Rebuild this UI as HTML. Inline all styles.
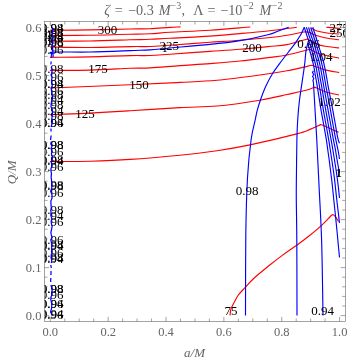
<!DOCTYPE html>
<html><head><meta charset="utf-8"><title>plot</title>
<style>html,body{margin:0;padding:0;background:#fff}svg{display:block}text{filter:grayscale(1)}</style></head>
<body>
<svg width="347" height="360" viewBox="0 0 347 360">
<defs><clipPath id="c"><rect x="44.4" y="21.4" width="300.90000000000003" height="300.20000000000005"/></clipPath></defs>
<rect width="347" height="360" fill="#fff"/>
<g clip-path="url(#c)">
<g fill="none" stroke="#ff0000" stroke-width="1.15">
<path d="M50.0,30.3 C56.7,30.2 76.7,30.1 90.0,29.9 C103.3,29.7 120.0,29.2 130.0,29.0 C140.0,28.8 143.3,29.1 150.0,28.8 C156.7,28.5 164.9,27.7 170.0,27.4 C175.1,27.1 178.8,27.0 180.5,26.9"/>
<path d="M50.0,35.6 C56.7,35.5 76.7,35.4 90.0,35.2 C103.3,35.0 120.0,34.5 130.0,34.2 C140.0,34.0 143.3,34.0 150.0,33.7 C156.7,33.4 160.0,32.9 170.0,32.3 C180.0,31.7 196.6,31.1 210.0,30.2 C223.4,29.3 243.6,27.5 250.3,27.0"/>
<path d="M50.0,41.3 C56.7,41.2 76.7,41.2 90.0,41.0 C103.3,40.8 120.0,40.1 130.0,39.8 C140.0,39.5 143.3,39.6 150.0,39.3 C156.7,39.0 160.0,38.7 170.0,38.2 C180.0,37.7 198.3,36.9 210.0,36.1 C221.7,35.3 230.3,34.5 240.0,33.6 C249.7,32.8 258.5,32.1 268.0,31.0 C277.5,29.9 292.0,27.8 296.8,27.2"/>
<path d="M50.0,47.0 C56.7,47.1 76.7,47.6 90.0,47.5 C103.3,47.4 120.0,46.8 130.0,46.6 C140.0,46.4 143.3,46.7 150.0,46.5 C156.7,46.3 160.0,45.9 170.0,45.2 C180.0,44.5 198.3,43.1 210.0,42.3 C221.7,41.5 230.3,41.0 240.0,40.2 C249.7,39.4 260.2,38.5 268.0,37.7 C275.8,36.9 280.8,36.2 287.0,35.2 C293.2,34.2 302.0,32.4 305.0,31.8 M305.0,31.8 C305.8,31.9 308.2,32.0 310.0,32.6 C311.8,33.2 312.9,34.3 315.6,35.2 C318.3,36.1 322.1,37.2 326.0,38.0 C329.9,38.8 336.8,39.5 339.0,39.8"/>
<path d="M50.0,57.4 C56.7,57.3 76.7,57.2 90.0,56.9 C103.3,56.6 120.0,55.8 130.0,55.6 C140.0,55.4 143.3,55.7 150.0,55.5 C156.7,55.3 160.0,54.9 170.0,54.2 C180.0,53.5 198.3,52.2 210.0,51.4 C221.7,50.6 230.3,50.1 240.0,49.3 C249.7,48.5 260.2,47.4 268.0,46.6 C275.8,45.8 280.4,45.9 287.0,44.6 C293.6,43.3 304.1,39.9 307.5,39.0 M307.5,39.0 C309.1,39.9 314.1,43.1 317.4,44.4 C320.6,45.6 323.4,45.9 327.0,46.5 C330.6,47.1 337.0,47.7 339.0,47.9"/>
<path d="M50.0,70.3 C56.7,70.3 76.7,70.4 90.0,70.1 C103.3,69.8 120.0,68.7 130.0,68.3 C140.0,67.9 141.7,68.4 150.0,67.9 C158.3,67.5 170.0,66.3 180.0,65.6 C190.0,64.9 200.0,64.4 210.0,63.6 C220.0,62.8 230.3,62.0 240.0,61.0 C249.7,60.0 260.2,58.6 268.0,57.6 C275.8,56.6 280.0,56.4 287.0,55.0 C294.0,53.6 306.2,50.2 310.0,49.3 M310.0,49.3 C311.7,50.1 315.2,52.5 320.0,54.0 C324.8,55.5 335.8,57.4 339.0,58.1"/>
<path d="M50.0,88.0 C63.3,87.5 108.3,85.6 130.0,84.7 C151.7,83.8 165.5,83.1 180.0,82.4 C194.5,81.7 203.7,81.5 217.0,80.3 C230.3,79.1 248.3,76.6 260.0,75.0 C271.7,73.4 278.4,72.3 287.0,70.7 C295.6,69.1 307.6,66.2 311.7,65.3 M311.7,65.3 C313.8,66.0 319.4,68.4 324.0,69.6 C328.6,70.8 336.7,72.1 339.2,72.6"/>
<path d="M50.0,114.7 C55.8,114.5 71.7,114.1 85.0,113.4 C98.3,112.7 114.2,111.7 130.0,110.7 C145.8,109.7 165.5,108.4 180.0,107.6 C194.5,106.8 203.7,107.2 217.0,106.0 C230.3,104.8 248.1,102.1 259.8,100.2 C271.5,98.3 279.3,96.2 287.0,94.5 C294.7,92.8 301.4,91.4 306.0,90.2 C310.6,89.0 313.3,87.6 314.8,87.1 M314.8,87.1 C316.7,87.9 322.0,90.7 326.0,92.0 C330.0,93.3 336.8,94.5 339.0,95.0"/>
<path d="M50.0,161.6 C56.7,161.5 76.7,161.6 90.0,161.2 C103.3,160.8 115.0,160.4 130.0,159.4 C145.0,158.4 165.5,156.6 180.0,155.2 C194.5,153.8 205.3,152.4 217.0,150.7 C228.7,149.0 236.7,147.7 250.0,144.9 C263.3,142.1 286.8,136.5 296.8,133.9 C306.8,131.3 305.9,131.0 310.0,129.4 C314.1,127.8 319.3,125.2 321.2,124.4 M321.2,124.4 C322.7,125.1 327.1,127.3 330.0,128.6 C332.9,129.9 337.1,131.6 338.5,132.2"/>
<path d="M230.0,315.4 C230.2,314.3 230.3,311.1 231.0,309.0 C231.7,306.9 232.7,305.2 233.9,303.0 C235.1,300.8 236.2,298.1 238.0,295.5 C239.8,292.9 242.3,290.6 245.0,287.7 C247.7,284.8 249.9,281.9 254.0,278.2 C258.1,274.5 264.7,269.2 269.5,265.3 C274.3,261.4 278.5,258.2 283.0,254.9 C287.5,251.6 292.2,248.5 296.4,245.5 C300.6,242.5 303.8,240.2 308.0,236.8 C312.2,233.4 318.2,228.4 321.6,225.3 C325.0,222.2 326.8,220.1 328.5,218.4 C330.2,216.7 330.8,215.9 331.6,215.3 C332.4,214.7 332.7,214.5 333.3,214.7 C333.9,214.9 334.5,215.6 335.4,216.7 C336.3,217.8 338.0,220.7 338.5,221.5"/>
<path d="M311.0,28.0 C312.0,28.5 314.3,30.2 317.0,31.0 C319.7,31.8 323.3,32.5 327.0,33.0 C330.7,33.5 337.2,33.8 339.3,34.0"/>
<path d="M326.3,27.2 C327.2,27.3 329.8,27.4 332.0,27.6 C334.2,27.8 338.1,28.3 339.3,28.4"/>
</g>
<g fill="none" stroke="#0000ff" stroke-width="1.15">
<path d="M51.2,57.6 C51.3,57.0 51.2,54.9 51.6,54.0 C52.0,53.1 47.1,52.4 53.5,52.1 C59.9,51.8 77.2,52.2 90.0,52.0 C102.8,51.8 120.0,51.0 130.0,50.6 C140.0,50.2 143.3,50.3 150.0,49.9 C156.7,49.5 160.0,48.9 170.0,48.0 C180.0,47.1 198.3,45.6 210.0,44.4 C221.7,43.2 230.3,42.2 240.0,40.6 C249.7,39.0 261.6,36.3 268.0,34.7 C274.4,33.1 274.9,32.2 278.4,31.0 C281.8,29.8 287.0,27.8 288.7,27.2"/>
<path d="M304.3,27.2 C303.8,28.2 302.7,31.1 301.4,33.5 C300.1,35.9 298.1,38.9 296.3,41.6 C294.5,44.3 292.8,46.5 290.3,49.7 C287.8,52.9 284.4,57.1 281.5,61.0 C278.6,64.9 275.5,68.8 272.9,73.0 C270.3,77.2 267.9,81.7 265.9,86.0 C263.9,90.3 262.2,95.0 260.8,99.0 C259.4,103.0 258.2,106.7 257.3,110.2 C256.4,113.7 256.2,115.2 255.2,120.0 C254.2,124.8 252.5,129.4 251.2,139.0 C249.9,148.6 248.4,161.8 247.5,177.8 C246.6,193.8 246.1,212.1 245.8,235.0 C245.5,257.9 245.6,302.0 245.5,315.4"/>
<path d="M307.8,43.3 C307.5,44.5 306.5,47.7 306.0,50.8 C305.5,53.9 305.3,58.5 304.9,62.0 C304.5,65.5 304.5,65.7 303.6,72.0 C302.7,78.3 300.5,92.0 299.5,100.0 C298.5,108.0 298.1,113.5 297.7,120.0 C297.3,126.5 297.1,129.3 296.9,139.0 C296.7,148.7 296.5,167.8 296.4,178.0 C296.3,188.2 296.2,189.7 296.3,200.0 C296.4,210.3 296.7,220.8 296.8,240.0 C296.9,259.2 297.0,302.8 297.0,315.4"/>
<path d="M313.4,70.8 L312.5,72.5 L313.7,74.5 L312.6,76.5 L313.8,78.5 L312.9,80.5 L313.5,82.5 M313.5,82.5 C313.5,83.2 313.4,82.5 313.7,87.0 C313.9,91.5 314.5,100.7 315.0,109.2 C315.5,117.7 316.0,125.6 316.7,138.2 C317.4,150.8 318.2,168.0 319.0,185.0 C319.8,202.0 320.9,218.3 321.6,240.0 C322.3,261.7 322.8,302.8 323.0,315.4"/>
<path d="M307.8,43.3 C308.1,44.4 308.9,47.2 309.6,50.0 C310.4,52.8 311.6,57.3 312.3,60.0 C313.0,62.7 313.4,64.4 313.8,66.4 C314.2,68.4 314.4,69.7 314.8,72.0 C315.2,74.3 315.7,77.5 316.2,80.0 C316.6,82.5 316.9,84.1 317.4,87.1 C317.9,90.1 318.5,94.3 319.1,98.0 C319.7,101.7 320.2,104.9 320.9,109.2 C321.6,113.5 322.7,119.2 323.6,124.0 C324.4,128.8 325.4,133.9 326.1,138.2 C326.8,142.5 327.3,146.4 327.8,150.0 C328.3,153.6 328.7,156.3 329.2,160.0 C329.7,163.7 330.2,167.8 330.7,172.0 C331.2,176.2 331.8,180.3 332.3,185.0 C332.8,189.7 333.3,195.0 333.8,200.0 C334.3,205.0 334.9,210.0 335.4,215.0 C335.9,220.0 336.4,225.0 336.9,230.0 C337.4,235.0 337.9,240.4 338.3,245.0 C338.8,249.6 339.3,255.4 339.5,257.5"/>
<path d="M304.3,27.3 C304.6,28.1 305.3,30.6 305.8,32.0 C306.2,33.5 306.5,34.7 307.0,36.0 C307.5,37.3 308.1,38.8 308.5,40.0 C309.0,41.2 309.3,41.6 309.8,43.3 C310.3,45.0 310.9,47.2 311.7,50.0 C312.4,52.8 313.7,57.3 314.4,60.0 C315.2,62.7 315.5,64.4 315.9,66.4 C316.4,68.4 316.6,69.7 317.0,72.0 C317.4,74.3 317.9,77.5 318.4,80.0 C318.8,82.5 319.1,84.1 319.6,87.1 C320.1,90.1 320.8,94.3 321.4,98.0 C322.0,101.7 322.5,104.9 323.2,109.2 C324.0,113.5 325.0,119.2 325.9,124.0 C326.8,128.8 327.7,133.9 328.4,138.2 C329.2,142.5 329.8,146.4 330.3,150.0 C330.9,153.6 331.3,156.3 331.8,160.0 C332.4,163.7 333.0,167.8 333.6,172.0 C334.1,176.2 334.7,180.3 335.2,185.0 C335.7,189.7 336.2,195.0 336.8,200.0 C337.4,205.0 338.1,211.2 338.6,215.0 C339.0,218.8 339.3,221.7 339.5,223.0"/>
<path d="M306.4,27.3 C306.7,28.1 307.5,30.6 307.9,32.0 C308.4,33.5 308.7,34.7 309.2,36.0 C309.6,37.3 310.2,38.8 310.6,40.0 C311.1,41.2 311.3,41.6 311.8,43.3 C312.3,45.0 312.9,47.2 313.7,50.0 C314.5,52.8 315.9,57.3 316.6,60.0 C317.3,62.7 317.6,64.4 318.1,66.4 C318.5,68.4 318.8,69.7 319.2,72.0 C319.6,74.3 320.1,77.5 320.5,80.0 C321.0,82.5 321.2,84.1 321.8,87.1 C322.3,90.1 323.0,94.3 323.6,98.0 C324.3,101.7 324.8,104.9 325.6,109.2 C326.3,113.5 327.4,119.2 328.2,124.0 C329.1,128.8 330.0,133.9 330.8,138.2 C331.6,142.5 332.3,146.4 332.9,150.0 C333.5,153.6 333.9,156.3 334.5,160.0 C335.0,163.7 335.8,167.8 336.4,172.0 C337.0,176.2 337.6,180.7 338.1,185.0 C338.6,189.3 339.3,195.8 339.5,198.0"/>
<path d="M308.6,27.3 C308.8,28.1 309.6,30.6 310.0,32.0 C310.5,33.5 310.9,34.7 311.3,36.0 C311.7,37.3 312.3,38.8 312.7,40.0 C313.1,41.2 313.3,41.6 313.8,43.3 C314.3,45.0 315.0,47.2 315.8,50.0 C316.6,52.8 318.0,57.3 318.7,60.0 C319.5,62.7 319.8,64.4 320.2,66.4 C320.7,68.4 320.9,69.7 321.3,72.0 C321.8,74.3 322.3,77.5 322.7,80.0 C323.2,82.5 323.4,84.1 323.9,87.1 C324.5,90.1 325.2,94.3 325.9,98.0 C326.6,101.7 327.1,104.9 327.9,109.2 C328.7,113.5 329.7,119.2 330.6,124.0 C331.4,128.8 332.3,133.9 333.1,138.2 C333.9,142.5 334.8,146.4 335.5,150.0 C336.1,153.6 336.4,156.2 337.1,160.0 C337.7,163.8 339.1,170.8 339.5,173.0"/>
<path d="M310.7,27.3 C310.9,28.1 311.7,30.6 312.2,32.0 C312.6,33.5 313.0,34.7 313.5,36.0 C313.9,37.3 314.4,38.8 314.8,40.0 C315.2,41.2 315.3,41.6 315.8,43.3 C316.4,45.0 317.0,47.2 317.9,50.0 C318.7,52.8 320.1,57.3 320.9,60.0 C321.6,62.7 321.9,64.4 322.4,66.4 C322.8,68.4 323.1,69.7 323.5,72.0 C323.9,74.3 324.5,77.5 324.9,80.0 C325.3,82.5 325.6,84.1 326.1,87.1 C326.7,90.1 327.5,94.3 328.2,98.0 C328.9,101.7 329.5,104.9 330.3,109.2 C331.1,113.5 332.0,119.2 332.9,124.0 C333.8,128.8 334.6,133.9 335.5,138.2 C336.3,142.5 337.4,146.5 338.0,150.0 C338.7,153.5 339.3,157.5 339.5,159.0"/>
<path d="M312.8,27.3 C313.1,28.1 313.8,30.6 314.3,32.0 C314.8,33.5 315.2,34.7 315.6,36.0 C316.0,37.3 316.5,38.8 316.8,40.0 C317.2,41.2 317.3,41.6 317.9,43.3 C318.4,45.0 319.1,47.2 319.9,50.0 C320.8,52.8 322.2,57.3 323.0,60.0 C323.8,62.7 324.1,64.4 324.5,66.4 C324.9,68.4 325.3,69.7 325.7,72.0 C326.1,74.3 326.6,77.5 327.1,80.0 C327.5,82.5 327.7,84.1 328.3,87.1 C328.9,90.1 329.7,94.3 330.4,98.0 C331.1,101.7 331.8,104.9 332.6,109.2 C333.4,113.5 334.4,119.2 335.3,124.0 C336.1,128.8 337.1,135.0 337.8,138.2 C338.5,141.4 339.2,142.5 339.5,143.3"/>
</g>
<g font-family="Liberation Serif, serif" font-size="13" fill="#000" text-anchor="middle">
<text x="52.2" y="31.7">0.98</text>
<text x="52.2" y="31.9">0.94</text>
<text x="52.2" y="36.6">0.96</text>
<text x="52.2" y="36.8">0.98</text>
<text x="52.2" y="41.2">0.98</text>
<text x="52.2" y="41.4">0.94</text>
<text x="52.2" y="46.4">0.98</text>
<text x="52.2" y="46.6">0.96</text>
<text x="52.2" y="53.5">0.96</text>
<text x="52.2" y="72.9">0.98</text>
<text x="52.2" y="80.9">0.96</text>
<text x="52.2" y="87.7">0.94</text>
<text x="52.2" y="87.9">0.98</text>
<text x="52.2" y="94.9">0.96</text>
<text x="52.2" y="99.4">0.98</text>
<text x="52.2" y="104.4">0.94</text>
<text x="52.2" y="109.4">0.98</text>
<text x="52.2" y="114.9">0.94</text>
<text x="52.2" y="120.3">0.98</text>
<text x="52.2" y="127.1">0.96</text>
<text x="52.2" y="127.4">0.94</text>
<text x="52.2" y="149.1">0.98</text>
<text x="52.2" y="149.3">0.98</text>
<text x="52.2" y="156.3">0.96</text>
<text x="52.2" y="164.1">0.98</text>
<text x="52.2" y="164.5">0.94</text>
<text x="52.2" y="171.3">0.96</text>
<text x="52.2" y="189.3">0.98</text>
<text x="52.2" y="189.5">0.98</text>
<text x="52.2" y="197.1">0.96</text>
<text x="52.2" y="213.5">0.98</text>
<text x="52.2" y="219.9">0.94</text>
<text x="52.2" y="226.1">0.96</text>
<text x="52.2" y="244.0">0.96</text>
<text x="52.2" y="249.1">0.98</text>
<text x="52.2" y="249.5">0.94</text>
<text x="52.2" y="257.3">0.96</text>
<text x="52.2" y="262.1">0.98</text>
<text x="52.2" y="262.5">0.94</text>
<text x="52.2" y="292.7">0.98</text>
<text x="52.2" y="292.9">0.98</text>
<text x="52.2" y="298.9">0.96</text>
<text x="52.2" y="307.7">0.94</text>
<text x="52.2" y="308.0">0.96</text>
<text x="52.2" y="318.4">0.94</text>
<text x="52.2" y="318.7">0.96</text>
<text x="107.5" y="33.7">300</text>
<text x="98" y="73.4">175</text>
<text x="139" y="89.2">150</text>
<text x="85" y="118.2">125</text>
<text x="169.2" y="49.9">225</text>
<text x="164.7" y="51.6">1</text>
<text x="49.5" y="38.5">1</text>
<text x="49.8" y="38.9">1</text>
<text x="49.5" y="44.5">1</text>
<text x="49.8" y="44.9">1</text>
<text x="251.9" y="52.4">200</text>
<text x="308.7" y="47.6">0.96</text>
<text x="321.0" y="61.2">1.04</text>
<text x="329.4" y="106.4">1.02</text>
<text x="247" y="195.3">0.98</text>
<text x="230.9" y="315.2">75</text>
<text x="322.7" y="314.5">0.94</text>
<text x="339.3" y="31.9">275</text>
<text x="339.3" y="37.2">250</text>
<text x="338.6" y="177.3">1</text>
<text x="338.9" y="177.3">1</text>
</g>
<path d="M52.4,27.5 L52.8,29.9 L52.6,32.2 L52.2,34.9 L52.1,37.8 L52.2,40.6 L52.5,43.0 L52.2,46.3 L52.7,48.8 L52.7,52.4 L53.1,55.1 L53.0,57.0 M51.1,61.5 L51.0,63.9 L51.4,64.0 M51.2,67.0 L52.1,70.0 L51.9,72.7 L51.0,75.0 L52.1,77.5 L51.5,80.3 L51.7,83.3 L52.3,85.9 L51.3,89.1 L51.8,92.1 L52.2,95.6 L52.7,98.2 L51.7,100.5 L51.2,103.8 L51.0,106.7 L52.3,109.8 L52.5,112.8 L52.2,115.4 L51.9,118.5 L52.4,121.3 L51.8,124.8 L51.0,127.0 M50.9,128.5 L51.1,131.5 M51.1,135.5 L50.8,138.1 L50.6,140.0 M51.4,141.5 L50.8,143.9 L52.0,146.2 L51.0,148.6 L52.2,151.3 L51.4,153.7 L52.2,156.6 L52.2,160.0 L51.3,162.6 L52.2,165.3 L50.9,168.8 L51.0,171.3 L51.5,173.8 L51.1,176.8 L51.4,179.0 L51.6,181.7 L51.8,185.3 L51.7,188.2 L50.7,191.3 L52.0,194.8 L52.0,198.2 L51.3,200.0 M51.0,200.0 L50.9,203.1 L51.1,205.4 L51.3,207.8 L50.8,210.1 L51.0,212.5 L50.8,215.2 L51.8,218.6 L51.2,221.0 L51.4,223.7 L52.2,226.1 L51.5,229.7 L50.9,232.6 L51.3,234.9 L52.1,237.5 L50.8,239.9 L51.6,243.4 L51.7,245.8 L51.6,248.1 L52.2,251.6 L51.2,254.8 L51.1,257.5 L51.7,260.8 L51.3,263.0 M50.8,265.0 L51.3,268.0 M51.0,271.0 L51.0,274.3 L50.6,275.0 M50.9,278.0 L50.6,280.7 L50.8,282.0 M50.9,285.0 L52.0,288.2 L52.0,291.0 L52.0,294.6 L50.9,297.3 L50.8,299.8 L51.5,302.3 L51.8,305.8 L51.5,308.6 L50.6,311.9 L52.0,315.1 L51.7,315.5" fill="none" stroke="#0000ff" stroke-width="1.25"/>
</g>
<g stroke="#666" stroke-width="0.6" fill="none">
<rect x="44.4" y="21.4" width="300.90000000000003" height="300.20000000000005"/>
<path d="M50.30,321.6v-4.7M50.30,21.4v4.7M64.77,321.6v-3.1M64.77,21.4v3.1M79.23,321.6v-3.1M79.23,21.4v3.1M93.70,321.6v-3.1M93.70,21.4v3.1M108.16,321.6v-4.7M108.16,21.4v4.7M122.62,321.6v-3.1M122.62,21.4v3.1M137.09,321.6v-3.1M137.09,21.4v3.1M151.56,321.6v-3.1M151.56,21.4v3.1M166.02,321.6v-4.7M166.02,21.4v4.7M180.49,321.6v-3.1M180.49,21.4v3.1M194.95,321.6v-3.1M194.95,21.4v3.1M209.42,321.6v-3.1M209.42,21.4v3.1M223.88,321.6v-4.7M223.88,21.4v4.7M238.35,321.6v-3.1M238.35,21.4v3.1M252.81,321.6v-3.1M252.81,21.4v3.1M267.28,321.6v-3.1M267.28,21.4v3.1M281.74,321.6v-4.7M281.74,21.4v4.7M296.21,321.6v-3.1M296.21,21.4v3.1M310.67,321.6v-3.1M310.67,21.4v3.1M325.14,321.6v-3.1M325.14,21.4v3.1M339.60,321.6v-4.7M339.60,21.4v4.7M44.4,315.60h4.7M345.3,315.60h-4.7M44.4,306.00h3.1M345.3,306.00h-3.1M44.4,296.40h3.1M345.3,296.40h-3.1M44.4,286.80h3.1M345.3,286.80h-3.1M44.4,277.20h3.1M345.3,277.20h-3.1M44.4,267.60h4.7M345.3,267.60h-4.7M44.4,258.00h3.1M345.3,258.00h-3.1M44.4,248.40h3.1M345.3,248.40h-3.1M44.4,238.80h3.1M345.3,238.80h-3.1M44.4,229.20h3.1M345.3,229.20h-3.1M44.4,219.60h4.7M345.3,219.60h-4.7M44.4,210.00h3.1M345.3,210.00h-3.1M44.4,200.40h3.1M345.3,200.40h-3.1M44.4,190.80h3.1M345.3,190.80h-3.1M44.4,181.20h3.1M345.3,181.20h-3.1M44.4,171.60h4.7M345.3,171.60h-4.7M44.4,162.00h3.1M345.3,162.00h-3.1M44.4,152.40h3.1M345.3,152.40h-3.1M44.4,142.80h3.1M345.3,142.80h-3.1M44.4,133.20h3.1M345.3,133.20h-3.1M44.4,123.60h4.7M345.3,123.60h-4.7M44.4,114.00h3.1M345.3,114.00h-3.1M44.4,104.40h3.1M345.3,104.40h-3.1M44.4,94.80h3.1M345.3,94.80h-3.1M44.4,85.20h3.1M345.3,85.20h-3.1M44.4,75.60h4.7M345.3,75.60h-4.7M44.4,66.00h3.1M345.3,66.00h-3.1M44.4,56.40h3.1M345.3,56.40h-3.1M44.4,46.80h3.1M345.3,46.80h-3.1M44.4,37.20h3.1M345.3,37.20h-3.1M44.4,27.60h4.7M345.3,27.60h-4.7"/>
</g>
<g font-family="Liberation Serif, serif" font-size="12.5" fill="#666">
<text x="50.3" y="335.5" text-anchor="middle">0.0</text>
<text x="108.2" y="335.5" text-anchor="middle">0.2</text>
<text x="166.0" y="335.5" text-anchor="middle">0.4</text>
<text x="223.9" y="335.5" text-anchor="middle">0.6</text>
<text x="281.7" y="335.5" text-anchor="middle">0.8</text>
<text x="339.6" y="335.5" text-anchor="middle">1.0</text>
<text x="41.4" y="319.9" text-anchor="end">0.0</text>
<text x="41.4" y="271.9" text-anchor="end">0.1</text>
<text x="41.4" y="223.9" text-anchor="end">0.2</text>
<text x="41.4" y="175.9" text-anchor="end">0.3</text>
<text x="41.4" y="127.9" text-anchor="end">0.4</text>
<text x="41.4" y="79.9" text-anchor="end">0.5</text>
<text x="41.4" y="31.9" text-anchor="end">0.6</text>
</g>
<g font-family="Liberation Serif, serif" font-size="13" fill="#666">
<text x="194.6" y="356.8" text-anchor="middle" font-style="italic">a/M</text>
<text transform="translate(15.9,172.4) rotate(-90)" text-anchor="middle" font-style="italic">Q/M</text>
<text y="14.8" font-size="14.2"><tspan x="104.3" font-style="italic">ζ</tspan><tspan x="114.8">=</tspan><tspan x="128">−0.3</tspan><tspan x="158.8" font-style="italic">M</tspan><tspan x="170.6" font-size="10" dy="-6.2">−3</tspan><tspan x="181.6" dy="6.2">,</tspan><tspan x="193.3">Λ</tspan><tspan x="207.6">=</tspan><tspan x="220.2">−10</tspan><tspan x="243.2" font-size="10" dy="-6.2">−2</tspan><tspan x="259.5" dy="6.2" font-style="italic">M</tspan><tspan x="271.8" font-size="10" dy="-6.2">−2</tspan></text>
</g>
</svg>
</body></html>
